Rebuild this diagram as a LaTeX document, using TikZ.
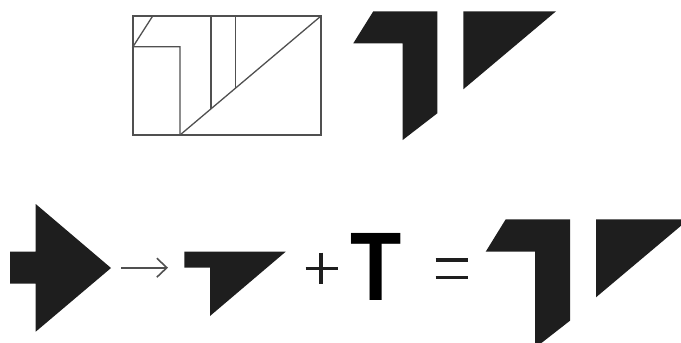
\documentclass[tikz,border=0pt]{standalone}
\usepackage{fontspec}
\newfontfamily\tfont{Liberation Sans}
\usetikzlibrary{arrows.meta}
\definecolor{ink}{HTML}{1E1E1E}
\definecolor{wire}{HTML}{505050}
\tikzset{
  piece/.style={fill=ink,draw=none},
  plan/.style={draw=wire,line width=1.3pt,line join=miter},
  opline/.style={draw=ink,line width=3.1pt},
  conn/.style={draw=wire,line width=1.6pt,-{Straight Barb[length=10pt,width=19pt,line width=1.6pt]}}
}
\begin{document}
\begin{tikzpicture}[x=1pt,y=-1pt]
\useasboundingbox (0,0) rectangle (681,343);
\clip (0,0) rectangle (681,343);
% top plan
\draw[plan] (133,16) rectangle (321,135);
\draw[plan] (152.7,16) -- (133,46.7) -- (180,46.7) -- (180,135);
\draw[plan] (180,135) -- (321,16);
\draw[plan] (211,16) -- (211,109);
\draw[plan] (235.7,16) -- (235.7,88.3);
% top pieces
\fill[piece] (373.3,11.3) -- (437.3,11.3) -- (437.3,113.3) -- (402.7,140) -- (402.7,43.3) -- (353.3,43.3) -- cycle;
\fill[piece] (463.3,11.3) -- (556,11.3) -- (463.3,89.3) -- cycle;
% bottom: arrow shape
\fill[piece] (10,251.7) -- (35.7,251.7) -- (35.7,204) -- (111,268) -- (35.7,331.7) -- (35.7,283.7) -- (10,283.7) -- cycle;
\coordinate (a1) at (121,267.7);
\coordinate (a2) at (168,267.7);
\draw[conn] (a1) -- (a2);
% T-shape piece
\fill[piece] (184.3,251.7) -- (285.7,251.7) -- (210,316) -- (210,267.7) -- (184.3,267.7) -- cycle;
% plus
\draw[opline] (305.7,268.3) -- (338.3,268.3);
\draw[opline] (321,252.7) -- (321,284);
% T
\node[inner sep=0pt,anchor=base] (T) at (376.5,300) {\scalebox{0.86}[1]{\tfont\bfseries\fontsize{97.5}{97.5}\selectfont T}};
% equals
\draw[opline] (435.7,260) -- (467.7,260);
\draw[opline] (435.7,277.3) -- (467.7,277.3);
% result pieces
\fill[piece] (505.7,219.3) -- (570,219.3) -- (570,320.7) -- (535,348) -- (535,251.7) -- (485.7,251.7) -- cycle;
\fill[piece] (596,219.3) -- (688.7,219.3) -- (596,297.3) -- cycle;
\end{tikzpicture}
\end{document}
